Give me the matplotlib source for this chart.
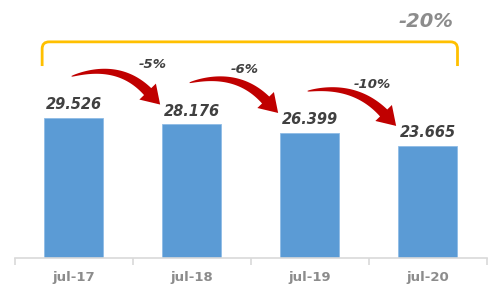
import numpy as np
import matplotlib.pyplot as plt
from matplotlib.patches import Polygon
from matplotlib.path import Path
from matplotlib.patches import PathPatch

# data
months = ["jul-17", "jul-18", "jul-19", "jul-20"]
values = [29.526, 28.176, 26.399, 23.665]
pct_labels = ["-5%", "-6%", "-10%"]
total_label = "-20%"

bar_color = "#5B9BD5"
arrow_color = "#C00000"
text_dark = "#404040"
text_gray = "#8C8C8C"

fig = plt.figure(figsize=(5.02, 2.95), dpi=100)
ax = fig.add_axes([15 / 502, 37 / 295, 472 / 502, 237 / 295])
x = np.arange(len(months))
ax.bar(x, values, width=0.5, color=bar_color, edgecolor="#8FBCE6", linewidth=0.6)
ax.set_xlim(-0.5, 3.5)
ax.set_ylim(0, 50)

for s in ["top", "right", "left"]:
    ax.spines[s].set_visible(False)
ax.spines["bottom"].set_color("#D9D9D9")
ax.spines["bottom"].set_linewidth(1.2)
ax.set_yticks([])
ax.set_xticks(x)
ax.set_xticklabels(months, fontsize=9.5, fontweight="bold", color=text_gray)
ax.tick_params(axis="x", length=0, pad=9)
ax.set_xticks(np.arange(-0.5, 4, 1), minor=True)
ax.tick_params(axis="x", which="minor", length=5, color="#D9D9D9", width=1.2)

# value labels
for xi, v in zip(x, values):
    ax.annotate(f"{v:.3f}", (xi, v), xytext=(0, 4), textcoords="offset points",
                ha="center", va="bottom", fontsize=10.5, fontweight="bold",
                fontstyle="italic", color=text_dark)


def curved_arrow(start, tip, angle=-46, head_len=18, head_w=23, shaft_w=10, k=42):
    P0 = ax.transData.transform(start)
    T = ax.transData.transform(tip)
    a = np.radians(angle)
    d = np.array([np.cos(a), np.sin(a)])
    B = T - head_len * d
    C = B - k * d
    t = np.linspace(0, 1, 50)[:, None]
    Q = (1 - t) ** 2 * P0 + 2 * (1 - t) * t * C + t ** 2 * B
    dQ = 2 * (1 - t) * (C - P0) + 2 * t * (B - C)
    n = np.column_stack([-dQ[:, 1], dQ[:, 0]])
    n /= np.linalg.norm(n, axis=1)[:, None]
    w = shaft_w * (0.08 + 0.92 * t ** 0.7)
    left = Q + n * w / 2
    right = Q - n * w / 2
    nb = np.array([-d[1], d[0]])
    pts = np.vstack([left, [B + nb * head_w / 2, T, B - nb * head_w / 2], right[::-1]])
    pts = ax.transData.inverted().transform(pts)
    ax.add_patch(Polygon(pts, closed=True, color=arrow_color, lw=0, clip_on=False))


pct_dx = [0.67, 0.45, 0.53]
pct_dy = [11.2, 11.5, 10.1]
for i in range(len(values) - 1):
    curved_arrow((i - 0.02, values[i] + 8.8), (i + 0.73, values[i + 1] + 4.2))
    ax.text(i + pct_dx[i], values[i] + pct_dy[i], pct_labels[i], ha="center",
            va="center", fontsize=9.5, fontweight="bold", fontstyle="italic",
            color=text_dark)

# bracket
bx0, bx1 = -0.27, 3.25
by0, by1 = 40.5, 45.6
p = ax.transData.transform([(bx0, by0), (bx1, by1)])
r = 7
(X0, Y0), (X1, Y1) = p
verts = [(X0, Y0), (X0, Y1 - r), (X0, Y1), (X0 + r, Y1), (X1 - r, Y1),
         (X1, Y1), (X1, Y1 - r), (X1, Y0)]
codes = [Path.MOVETO, Path.LINETO, Path.CURVE3, Path.CURVE3, Path.LINETO,
         Path.CURVE3, Path.CURVE3, Path.LINETO]
verts = ax.transData.inverted().transform(verts)
ax.add_patch(PathPatch(Path(verts, codes), fill=False, edgecolor="#FFC000",
                       lw=2, clip_on=False, capstyle="butt"))
ax.text(2.98, 49.8, total_label, ha="center", va="center", fontsize=14,
        fontweight="bold", fontstyle="italic", color=text_gray, clip_on=False)

fig.savefig("out.png", dpi=100)
